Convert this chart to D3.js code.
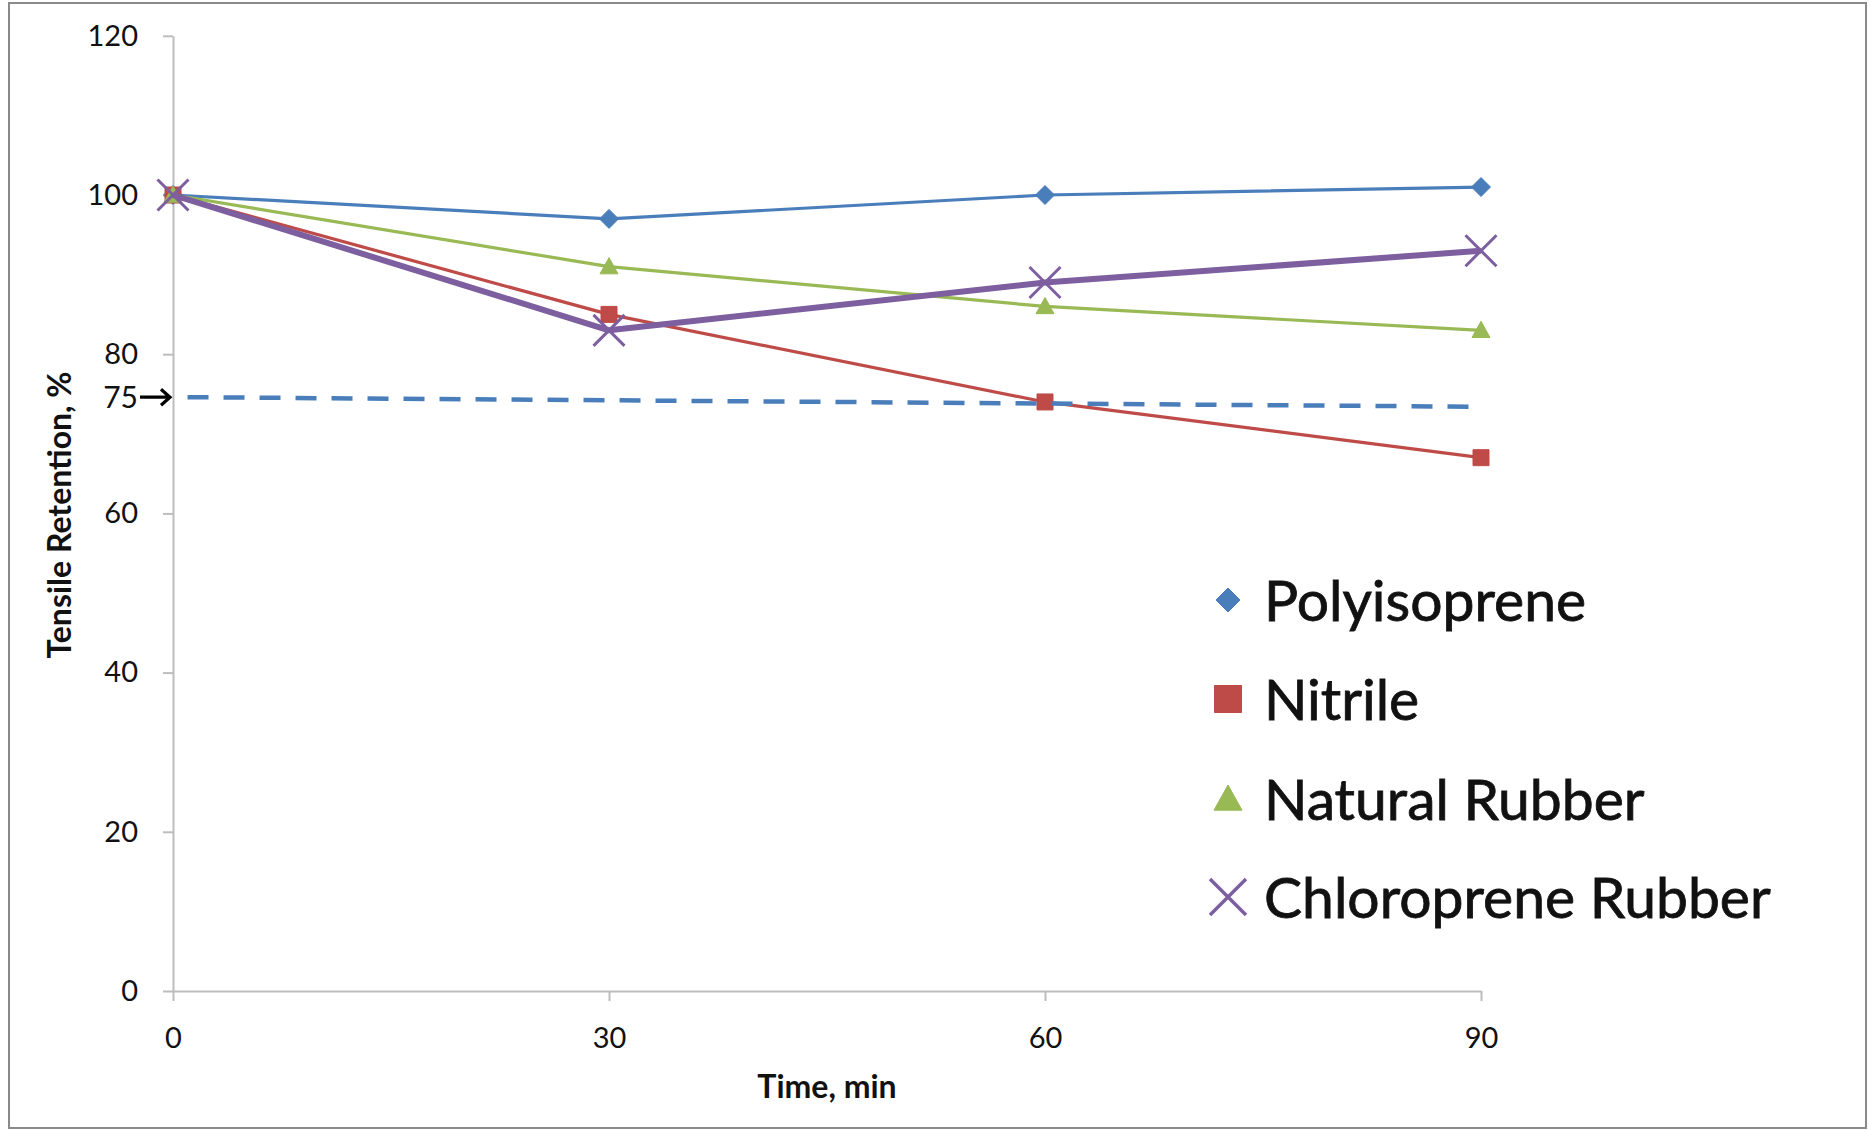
<!DOCTYPE html>
<html>
<head>
<meta charset="utf-8">
<script src="https://cdn.jsdelivr.net/npm/d3@7"></script>
<style>
  body { margin: 0; background: #fff; }
  text { font-family: Lato, "Open Sans", sans-serif; fill: #111; }
</style>
</head>
<body>
<div id="chart"></div>
<script>
// data
var times = [0, 30, 60, 90];
var polyisoprene = [100, 97, 100, 101];
var nitrile = [100, 85, 74, 67];
var naturalRubber = [100, 91, 86, 83];
var chloroprene = [100, 83, 89, 93];
var seriesNames = ["Polyisoprene", "Nitrile", "Natural Rubber", "Chloroprene Rubber"];
var yTicks = [0, 20, 40, 60, 80, 100, 120];
var xTicks = [0, 30, 60, 90];
var limitTimes = [1, 90];
var limitValues = [74.6, 73.4];
var limitLabel = "75";

var W = 1870, H = 1130;

var svg = d3.select("#chart")
    .append("svg")
    .attr("width", W)
    .attr("height", H);

// outer frame
svg.append("rect")
    .attr("x", 9).attr("y", 3)
    .attr("width", 1857).attr("height", 1125)
    .attr("fill", "none")
    .attr("stroke", "#8a8a8a")
    .attr("stroke-width", 2);

var x = d3.scaleLinear().domain([0, 90]).range([173, 1481]);
var y = d3.scaleLinear().domain([0, 120]).range([991, 35.8]);

// Y axis
var yAxis = svg.append("g")
    .attr("transform", "translate(" + x(0) + ",0)")
    .call(d3.axisLeft(y).tickValues(yTicks).tickSize(10).tickSizeOuter(0).tickPadding(25));

// X axis
var xAxis = svg.append("g")
    .attr("transform", "translate(0," + y(0) + ")")
    .call(d3.axisBottom(x).tickValues(xTicks).tickSize(10).tickSizeOuter(0).tickPadding(26));

[yAxis, xAxis].forEach(function (ax) {
    ax.select(".domain").attr("stroke", "#bdbdbd").attr("stroke-width", 2);
    ax.selectAll(".tick line").attr("stroke", "#bdbdbd").attr("stroke-width", 2);
    ax.selectAll(".tick text")
        .style("font-family", "Lato, sans-serif")
        .style("font-size", "29px")
        .attr("fill", "#111");
});

// axis titles
svg.append("text")
    .attr("x", (x(0) + x(90)) / 2)
    .attr("y", 1098)
    .attr("text-anchor", "middle")
    .style("font-size", "32px")
    .style("font-weight", "bold")
    .text("Time, min");

svg.append("text")
    .attr("transform", "translate(71,515) rotate(-90)")
    .attr("text-anchor", "middle")
    .style("font-size", "32px")
    .style("font-weight", "bold")
    .text("Tensile Retention, %");

// series
var colors = ["#4a7ebb", "#be4b48", "#98b954", "#7d5fa0"];
var widths = [3.2, 3.2, 3.2, 6];
var allSeries = [polyisoprene, nitrile, naturalRubber, chloroprene];

var line = d3.line()
    .x(function (d) { return x(d.t); })
    .y(function (d) { return y(d.v); });

// marker shapes, s = size in px
function markerPath(kind, s) {
    var h = s / 2;
    if (kind === 0) return "M0," + (-h) + "L" + h + ",0L0," + h + "L" + (-h) + ",0Z";
    if (kind === 1) return "M" + (-h) + "," + (-h) + "H" + h + "V" + h + "H" + (-h) + "Z";
    if (kind === 2) return "M0," + (-h) + "L" + h + "," + (h * 0.8) + "L" + (-h) + "," + (h * 0.8) + "Z";
    return "M" + (-h) + "," + (-h) + "L" + h + "," + h + "M" + h + "," + (-h) + "L" + (-h) + "," + h;
}
var markerSizes = [19, 16, 18, 31];

allSeries.forEach(function (vals, i) {
    var pts = times.map(function (t, j) { return {t: t, v: vals[j]}; });
    svg.append("path")
        .datum(pts)
        .attr("d", line)
        .attr("fill", "none")
        .attr("stroke", colors[i])
        .attr("stroke-width", widths[i])
        .attr("stroke-linejoin", "round");

    svg.selectAll(".m" + i)
        .data(pts)
        .enter()
        .append("path")
        .attr("transform", function (d) { return "translate(" + x(d.t) + "," + y(d.v) + ")"; })
        .attr("d", markerPath(i, markerSizes[i]))
        .attr("fill", i === 3 ? "none" : colors[i])
        .attr("stroke", colors[i])
        .attr("stroke-width", i === 3 ? 3 : 1);
});

// 75% limit line
var limitPts = limitTimes.map(function (t, j) { return {t: t, v: limitValues[j]}; });
svg.append("path")
    .datum(limitPts)
    .attr("d", line)
    .attr("fill", "none")
    .attr("stroke", "#4a7ebb")
    .attr("stroke-width", 4.5)
    .attr("stroke-dasharray", "21,15");

// "75 ->" annotation
var ly = y(limitValues[0]);
svg.append("text")
    .attr("x", 138)
    .attr("y", ly)
    .attr("dy", "0.35em")
    .attr("text-anchor", "end")
    .style("font-size", "30px")
    .text(limitLabel);
svg.append("path")
    .attr("d", "M140," + ly + "H" + (x(0) - 3) +
        "M" + (x(0) - 12) + "," + (ly - 8) + "L" + (x(0) - 3) + "," + ly + "L" + (x(0) - 12) + "," + (ly + 8))
    .attr("fill", "none")
    .attr("stroke", "#000")
    .attr("stroke-width", 3.2);

// legend
var legend = svg.append("g");
var legendY = [600, 699, 799, 897];
var legendSizes = [24, 27, 28, 36];
seriesNames.forEach(function (name, i) {
    var g = legend.append("g").attr("transform", "translate(1228," + legendY[i] + ")");
    g.append("path")
        .attr("d", markerPath(i, legendSizes[i]))
        .attr("fill", i === 3 ? "none" : colors[i])
        .attr("stroke", colors[i])
        .attr("stroke-width", i === 3 ? 3.5 : 1);
    g.append("text")
        .attr("x", 36)
        .attr("dy", "0.36em")
        .style("font-size", "57px")
        .attr("stroke", "#111")
        .attr("stroke-width", 0.8)
        .text(name);
});
</script>
</body>
</html>
